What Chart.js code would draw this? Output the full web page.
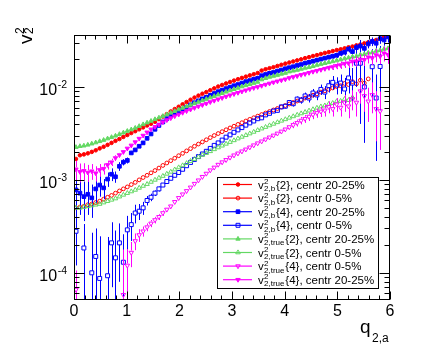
<!DOCTYPE html>
<html><head><meta charset="utf-8">
<script src="https://cdn.jsdelivr.net/npm/chart.js@4.4.1/dist/chart.umd.min.js"></script>
<style>html,body{margin:0;padding:0;background:#fff;}#wrap{width:436px;height:354px;position:relative;}</style>
</head><body><div id="wrap"><canvas id="c" width="436" height="354"></canvas></div>
<script>
// ---- bin centres of q_{2,a}
const qBins = [0.0375,0.1125,0.1875,0.2625,0.3375,0.4125,0.4875,0.5625,0.6375,0.7125,
0.7875,0.8625,0.9375,1.0125,1.0875,1.1625,1.2375,1.3125,1.3875,1.4625,
1.5375,1.6125,1.6875,1.7625,1.8375,1.9125,1.9875,2.0625,2.1375,2.2125,
2.2875,2.3625,2.4375,2.5125,2.5875,2.6625,2.7375,2.8125,2.8875,2.9625,
3.0375,3.1125,3.1875,3.2625,3.3375,3.4125,3.4875,3.5625,3.6375,3.7125,
3.7875,3.8625,3.9375,4.0125,4.0875,4.1625,4.2375,4.3125,4.3875,4.4625,
4.5375,4.6125,4.6875,4.7625,4.8375,4.9125,4.9875,5.0625,5.1375,5.2125,
5.2875,5.3625,5.4375,5.5125,5.5875,5.6625,5.7375,5.8125,5.8875,5.9625];

// ---- tick labels
const xTickValues = [0,1,2,3,4,5,6];
const xTickLabels = ['0','1','2','3','4','5','6'];
const yTickValues = [1e-4,1e-3,1e-2];
const yTickBase = ['10','10','10'];
const yTickExp = ['-4','-3','-2'];

// ---- series: v2,b{2} centr 20-25%
const v2b2_c2025 = [1.68e-3,1.84e-3,1.88e-3,1.93e-3,2.00e-3,2.08e-3,2.18e-3,2.27e-3,2.38e-3,2.50e-3,
2.63e-3,2.75e-3,2.90e-3,3.04e-3,3.19e-3,3.34e-3,3.50e-3,3.67e-3,3.85e-3,4.02e-3,
4.22e-3,4.50e-3,4.80e-3,5.10e-3,5.45e-3,5.78e-3,6.12e-3,6.50e-3,6.88e-3,7.28e-3,
7.68e-3,8.06e-3,8.45e-3,8.80e-3,9.22e-3,9.65e-3,10.1e-3,10.5e-3,10.9e-3,11.3e-3,
11.7e-3,12.1e-3,12.5e-3,12.9e-3,13.3e-3,13.7e-3,14.1e-3,15.0e-3,15.5e-3,15.9e-3,
16.3e-3,16.8e-3,17.3e-3,17.8e-3,18.3e-3,18.8e-3,19.3e-3,19.8e-3,20.4e-3,20.9e-3,
21.5e-3,22.0e-3,22.6e-3,23.2e-3,23.7e-3,24.3e-3,24.9e-3,25.4e-3,26.0e-3,26.7e-3,
27.2e-3,28.0e-3,28.6e-3,29.4e-3,30.2e-3,31.2e-3,32.0e-3,33.2e-3,34.3e-3,35.5e-3];

// v2,b{2} centr 0-5%
const v2b2_c05 = [0.50e-3,0.51e-3,0.52e-3,0.54e-3,0.55e-3,0.57e-3,0.59e-3,0.62e-3,0.65e-3,0.68e-3,
0.72e-3,0.76e-3,0.80e-3,0.84e-3,0.89e-3,0.94e-3,1.00e-3,1.06e-3,1.12e-3,1.19e-3,
1.26e-3,1.34e-3,1.43e-3,1.52e-3,1.61e-3,1.71e-3,1.82e-3,1.93e-3,2.05e-3,2.17e-3,
2.30e-3,2.43e-3,2.56e-3,2.70e-3,2.85e-3,3.00e-3,3.15e-3,3.30e-3,3.46e-3,3.62e-3,
3.78e-3,3.95e-3,4.12e-3,4.30e-3,4.48e-3,4.66e-3,4.85e-3,5.04e-3,5.24e-3,5.44e-3,
5.65e-3,5.86e-3,6.08e-3,6.30e-3,6.55e-3,6.80e-3,7.05e-3,7.30e-3,7.58e-3,7.85e-3,
8.15e-3,8.45e-3,8.80e-3,9.10e-3,9.40e-3,9.75e-3,10.1e-3,10.3e-3,10.9e-3,10.6e-3,
11.4e-3,10.8e-3,11.8e-3,11.0e-3,12.2e-3,null,null,null,null,null];

// v2,b{4} centr 20-25%
const v2b4_c2025 = [0.78e-3,0.72e-3,0.66e-3,0.70e-3,0.64e-3,0.80e-3,0.88e-3,0.82e-3,1.02e-3,1.15e-3,
1.08e-3,1.40e-3,1.55e-3,1.62e-3,1.95e-3,2.10e-3,2.30e-3,2.50e-3,2.80e-3,3.12e-3,
3.50e-3,3.85e-3,4.20e-3,4.55e-3,4.85e-3,5.15e-3,5.39e-3,5.72e-3,6.05e-3,6.41e-3,
6.76e-3,7.09e-3,7.44e-3,7.74e-3,8.11e-3,8.49e-3,8.89e-3,9.24e-3,9.59e-3,9.94e-3,
10.3e-3,10.6e-3,11.0e-3,11.4e-3,11.7e-3,12.1e-3,12.4e-3,13.2e-3,13.6e-3,14.0e-3,
14.3e-3,14.8e-3,15.2e-3,15.7e-3,16.1e-3,16.5e-3,17.0e-3,17.4e-3,18.0e-3,18.4e-3,
18.9e-3,19.4e-3,19.9e-3,20.4e-3,20.9e-3,21.4e-3,21.9e-3,23.0e-3,23.6e-3,25.5e-3,
24.0e-3,26.5e-3,27.5e-3,26.0e-3,29.0e-3,30.8e-3,29.5e-3,33.0e-3,32.0e-3,34.5e-3];
const err_v2b4_c2025 = [0.35e-3,0.30e-3,0.30e-3,0.28e-3,0.25e-3,0.25e-3,0.22e-3,0.20e-3,0.18e-3,0.18e-3,
0.15e-3,0.15e-3,0.12e-3,0.12e-3,0.10e-3,0.10e-3,0.09e-3,0.09e-3,0.08e-3,0.08e-3,
0,0,0,0,0,0,0,0,0,0, 0,0,0,0,0,0,0,0,0,0, 0,0,0,0,0,0,0,0,0,0, 0,0,0,0,0,0,0,0,0,0,
0.6e-3,0.7e-3,0.8e-3,0.9e-3,1.0e-3,1.2e-3,1.4e-3,1.6e-3,1.8e-3,2.0e-3,
2.2e-3,2.4e-3,2.6e-3,2.8e-3,3.0e-3,3.3e-3,3.6e-3,3.9e-3,4.2e-3,4.5e-3];

// v2,b{4} centr 0-5%
const v2b4_c05 = [0.28e-3,null,0.185e-3,null,0.10e-3,0.15e-3,0.087e-3,null,0.093e-3,0.21e-3,
0.145e-3,0.21e-3,0.13e-3,0.29e-3,0.33e-3,0.44e-3,0.46e-3,0.50e-3,0.60e-3,0.65e-3,
0.72e-3,0.80e-3,0.88e-3,0.96e-3,1.04e-3,1.12e-3,1.20e-3,1.30e-3,1.42e-3,1.54e-3,
1.66e-3,1.78e-3,1.90e-3,2.03e-3,2.18e-3,2.35e-3,2.50e-3,2.68e-3,2.88e-3,3.05e-3,
3.25e-3,3.45e-3,3.65e-3,3.88e-3,4.10e-3,4.30e-3,4.55e-3,4.65e-3,5.00e-3,5.20e-3,
5.50e-3,5.60e-3,6.10e-3,6.20e-3,6.80e-3,6.60e-3,7.40e-3,7.20e-3,8.00e-3,7.60e-3,
8.60e-3,8.20e-3,9.40e-3,8.80e-3,10.3e-3,11.2e-3,10.5e-3,11.0e-3,9.5e-3,12.5e-3,
11.0e-3,18.0e-3,18.0e-3,10.0e-3,null,16.5e-3,7.6e-3,16.6e-3,null,null];
const err_v2b4_c05 = [0.16e-3,0,0.15e-3,0,0.17e-3,0.15e-3,0.16e-3,0,0.15e-3,0.14e-3,
0.14e-3,0.13e-3,0.13e-3,0.12e-3,0.11e-3,0.10e-3,0.09e-3,0.08e-3,0.07e-3,0.06e-3,
0.05e-3,0.05e-3,0.04e-3,0,0,0,0,0,0,0, 0,0,0,0,0,0,0,0,0,0, 0,0,0,0,0,0,0,0,0,0,
0.25e-3,0.3e-3,0.3e-3,0.35e-3,0.4e-3,0.45e-3,0.5e-3,0.6e-3,0.7e-3,0.8e-3,
0.9e-3,1.0e-3,1.2e-3,1.4e-3,1.6e-3,1.9e-3,2.2e-3,2.6e-3,3.0e-3,4.0e-3,
5.0e-3,8.0e-3,14.0e-3,7.5e-3,0,9.0e-3,6.0e-3,11.0e-3,0,0];

// v2,true{2} centr 20-25%
const v2true2_c2025 = [2.25e-3,2.30e-3,2.33e-3,2.38e-3,2.45e-3,2.52e-3,2.60e-3,2.68e-3,2.78e-3,2.88e-3,
2.98e-3,3.10e-3,3.22e-3,3.35e-3,3.48e-3,3.62e-3,3.78e-3,3.95e-3,4.12e-3,4.30e-3,
4.48e-3,4.66e-3,4.85e-3,5.05e-3,5.26e-3,5.48e-3,5.70e-3,5.93e-3,6.16e-3,6.40e-3,
6.65e-3,6.90e-3,7.15e-3,7.40e-3,7.68e-3,7.95e-3,8.25e-3,8.55e-3,8.85e-3,9.15e-3,
9.45e-3,9.75e-3,10.1e-3,10.4e-3,10.7e-3,11.0e-3,11.3e-3,12.0e-3,12.4e-3,12.8e-3,
13.1e-3,13.4e-3,13.8e-3,14.1e-3,14.6e-3,14.9e-3,15.2e-3,15.6e-3,16.0e-3,16.3e-3,
16.7e-3,17.2e-3,17.6e-3,18.0e-3,18.4e-3,18.8e-3,19.2e-3,19.7e-3,20.2e-3,20.6e-3,
21.1e-3,21.4e-3,22.2e-3,22.5e-3,23.3e-3,23.5e-3,24.4e-3,24.8e-3,25.6e-3,26.0e-3];

// v2,true{2} centr 0-5%
const v2true2_c05 = [0.50e-3,0.50e-3,0.51e-3,0.52e-3,0.53e-3,0.54e-3,0.55e-3,0.57e-3,0.59e-3,0.61e-3,
0.63e-3,0.66e-3,0.69e-3,0.72e-3,0.75e-3,0.78e-3,0.82e-3,0.86e-3,0.90e-3,0.95e-3,
1.00e-3,1.05e-3,1.10e-3,1.16e-3,1.22e-3,1.29e-3,1.36e-3,1.43e-3,1.51e-3,1.59e-3,
1.67e-3,1.76e-3,1.85e-3,1.94e-3,2.03e-3,2.13e-3,2.23e-3,2.33e-3,2.44e-3,2.55e-3,
2.66e-3,2.78e-3,2.90e-3,3.02e-3,3.15e-3,3.28e-3,3.42e-3,3.56e-3,3.70e-3,3.85e-3,
4.00e-3,4.16e-3,4.32e-3,4.48e-3,4.65e-3,4.82e-3,5.00e-3,5.18e-3,5.36e-3,5.55e-3,
5.74e-3,5.95e-3,6.15e-3,6.30e-3,6.55e-3,6.70e-3,7.00e-3,7.05e-3,7.40e-3,7.20e-3,
7.70e-3,null,null,null,null,null,null,null,null,null];

// v2,true{4} centr 0-5%
const v2true4_c05 = [0.066e-3,null,null,null,null,null,null,null,null,null,
null,null,0.058e-3,0.12e-3,0.165e-3,0.22e-3,0.255e-3,0.28e-3,0.31e-3,0.34e-3,
0.37e-3,0.40e-3,0.44e-3,0.48e-3,0.52e-3,0.58e-3,0.64e-3,0.70e-3,0.76e-3,0.83e-3,
0.91e-3,0.99e-3,1.08e-3,1.17e-3,1.27e-3,1.36e-3,1.46e-3,1.55e-3,1.64e-3,1.74e-3,
1.84e-3,1.93e-3,2.03e-3,2.13e-3,2.24e-3,2.36e-3,2.48e-3,2.60e-3,2.73e-3,2.87e-3,
3.01e-3,3.16e-3,3.32e-3,3.50e-3,3.70e-3,3.90e-3,4.10e-3,4.35e-3,4.55e-3,4.80e-3,
5.05e-3,5.25e-3,5.45e-3,5.60e-3,6.10e-3,5.80e-3,6.50e-3,6.00e-3,6.80e-3,6.20e-3,
7.40e-3,6.80e-3,9.00e-3,8.00e-3,7.00e-3,8.20e-3,5.80e-3,5.50e-3,null,null];
const err_v2true4_c05 = [0.04e-3,0,0,0,0,0,0,0,0,0,
0,0,0.12e-3,0.06e-3,0.05e-3,0.045e-3,0.04e-3,0.035e-3,0.03e-3,0.03e-3,
0.03e-3,0.03e-3,0.03e-3,0,0,0,0,0,0,0, 0,0,0,0,0,0,0,0,0,0, 0,0,0,0,0,0,0,0,0,0,
0,0,0,0,0,0.3e-3,0.35e-3,0.4e-3,0.45e-3,0.5e-3,
0.55e-3,0.6e-3,0.7e-3,0.8e-3,0.9e-3,1.0e-3,1.1e-3,1.2e-3,1.4e-3,1.6e-3,
1.8e-3,2.0e-3,2.4e-3,2.6e-3,2.8e-3,3.0e-3,3.2e-3,3.4e-3,0,0];

// v2,true{4} centr 20-25%
const v2true4_c2025 = [1.30e-3,1.22e-3,1.25e-3,1.20e-3,1.24e-3,1.18e-3,1.28e-3,1.32e-3,1.45e-3,1.55e-3,
1.72e-3,1.85e-3,2.00e-3,2.18e-3,2.35e-3,2.55e-3,2.78e-3,3.00e-3,3.25e-3,3.50e-3,
3.72e-3,3.95e-3,4.18e-3,4.40e-3,4.62e-3,4.85e-3,5.05e-3,5.28e-3,5.50e-3,5.72e-3,
5.95e-3,6.18e-3,6.40e-3,6.63e-3,6.88e-3,7.12e-3,7.37e-3,7.62e-3,7.88e-3,8.14e-3,
8.40e-3,8.66e-3,8.93e-3,9.20e-3,9.48e-3,9.76e-3,10.0e-3,10.3e-3,10.6e-3,10.9e-3,
11.2e-3,11.5e-3,11.8e-3,12.1e-3,12.5e-3,12.8e-3,13.1e-3,13.5e-3,13.8e-3,14.2e-3,
14.6e-3,14.9e-3,15.3e-3,15.7e-3,16.1e-3,16.4e-3,16.9e-3,17.2e-3,17.8e-3,18.0e-3,
18.8e-3,18.9e-3,19.8e-3,19.6e-3,20.9e-3,20.5e-3,22.0e-3,21.4e-3,23.0e-3,22.2e-3];
const err_v2true4_c2025 = [0.30e-3,0.28e-3,0.26e-3,0.25e-3,0.24e-3,0.22e-3,0.20e-3,0.18e-3,0.16e-3,0.14e-3,
0.12e-3,0.10e-3,0,0,0,0,0,0,0,0,
0,0,0,0,0,0,0,0,0,0, 0,0,0,0,0,0,0,0,0,0, 0,0,0,0,0,0,0,0,0,0, 0,0,0,0,0,0,0,0,0,0,
0.6e-3,0.7e-3,0.8e-3,0.9e-3,1.0e-3,1.2e-3,1.4e-3,1.6e-3,1.8e-3,2.0e-3,
2.2e-3,2.4e-3,2.6e-3,2.8e-3,3.0e-3,3.3e-3,3.6e-3,3.9e-3,4.2e-3,4.5e-3];

// ---- legend texts
const legendSub = ['2,b','2,b','2,b','2,b','2,true','2,true','2,true','2,true'];
const legendRest = ['{2}, centr 20-25%','{2}, centr 0-5%','{4}, centr 20-25%','{4}, centr 0-5%',
                    '{2}, centr 20-25%','{2}, centr 0-5%','{4}, centr 0-5%','{4}, centr 20-25%'];

const GREEN = '#63d863';
const specs = [
  {values:v2b2_c2025, err:null, color:'#ff0000', style:'circle', rot:0, r:1.8, filled:true},
  {values:v2b2_c05, err:null, color:'#ff0000', style:'circle', rot:0, r:1.9, filled:false},
  {values:v2b4_c2025, err:err_v2b4_c2025, color:'#0000ff', style:'rect', rot:0, r:2.6, filled:true},
  {values:v2b4_c05, err:err_v2b4_c05, color:'#0000ff', style:'rect', rot:0, r:2.8, filled:false},
  {values:v2true2_c2025, err:null, color:GREEN, style:'triangle', rot:0, r:2.5, filled:true},
  {values:v2true2_c05, err:null, color:GREEN, style:'triangle', rot:0, r:2.6, filled:false},
  {values:v2true4_c05, err:err_v2true4_c05, color:'#ff00ff', style:'triangle', rot:180, r:2.6, filled:false},
  {values:v2true4_c2025, err:err_v2true4_c2025, color:'#ff00ff', style:'triangle', rot:180, r:2.5, filled:true}
];
specs.forEach((s,i)=>{ s.label = 'v2^2_{' + legendSub[i] + '}' + legendRest[i]; });

const FONT = '"Liberation Sans", Arial, Helvetica, sans-serif';

function drawMarker(ctx, s, x, y){
  const r = s.r;
  ctx.save();
  ctx.beginPath();
  if (s.style === 'circle') ctx.arc(x, y, r, 0, Math.PI*2);
  else if (s.style === 'rect') { const h = r*Math.SQRT1_2; ctx.rect(x-h, y-h, 2*h, 2*h); }
  else {
    const d = s.rot === 180 ? -1 : 1;
    ctx.moveTo(x, y - d*r);
    ctx.lineTo(x + r*0.866, y + d*r*0.5);
    ctx.lineTo(x - r*0.866, y + d*r*0.5);
    ctx.closePath();
  }
  if (s.filled) { ctx.fillStyle = s.color; ctx.fill(); }
  ctx.strokeStyle = s.color; ctx.lineWidth = 1; ctx.stroke();
  ctx.restore();
}

const errorBarPlugin = {
  id: 'errbars',
  beforeDatasetDraw(chart, args){
    const s = specs[args.index];
    if (!s.err) return;
    const xs = chart.scales.x, ys = chart.scales.y, a = chart.chartArea, ctx = chart.ctx;
    ctx.save();
    ctx.beginPath(); ctx.rect(a.left, a.top, a.right-a.left, a.bottom-a.top); ctx.clip();
    ctx.strokeStyle = s.color; ctx.lineWidth = 1;
    ctx.beginPath();
    const gap = s.style === 'rect' ? s.r*0.71 : s.r*0.8;
    s.values.forEach((v,k)=>{
      if (v == null) return;
      const e = s.err[k];
      if (!e) return;
      const px = Math.round(xs.getPixelForValue(qBins[k])) + 0.5;
      const py = ys.getPixelForValue(v);
      const yTop = ys.getPixelForValue(v+e);
      const yBot = (v-e) > 0 ? ys.getPixelForValue(v-e) : a.bottom + 5;
      if (yTop < py - gap) { ctx.moveTo(px, py - gap); ctx.lineTo(px, yTop); }
      if (yBot > py + gap) { ctx.moveTo(px, py + gap); ctx.lineTo(px, yBot); }
    });
    ctx.stroke();
    ctx.restore();
  }
};

const framePlugin = {
  id: 'rootFrame',
  afterDatasetsDraw(chart){
    const ctx = chart.ctx, a = chart.chartArea, xs = chart.scales.x, ys = chart.scales.y;
    ctx.save();
    ctx.strokeStyle = '#000'; ctx.lineWidth = 1;
    const L = Math.round(a.left)+0.5, R = Math.round(a.right)-0.5, T = Math.round(a.top)+0.5, B = Math.round(a.bottom)-0.5;
    ctx.strokeRect(L, T, R-L, B-T);
    ctx.beginPath();
    for (let i = 0; i <= 30; i++) {
      const v = i*0.2;
      const px = Math.round(xs.getPixelForValue(v)) + 0.5;
      const len = (i % 5 === 0) ? 8 : 4;
      ctx.moveTo(px, B); ctx.lineTo(px, B - len);
      ctx.moveTo(px, T); ctx.lineTo(px, T + len);
    }
    for (let d = -5; d <= -1; d++) {
      for (let m = 1; m <= 9; m++) {
        const v = m*Math.pow(10, d);
        if (v < ys.min || v > ys.max) continue;
        const py = Math.round(ys.getPixelForValue(v)) + 0.5;
        const len = m === 1 ? 10 : 5;
        ctx.moveTo(L, py); ctx.lineTo(L + len, py);
        ctx.moveTo(R, py); ctx.lineTo(R - len, py);
      }
    }
    ctx.stroke();
    ctx.fillStyle = '#000';
    ctx.font = '16px ' + FONT; ctx.textAlign = 'center'; ctx.textBaseline = 'alphabetic';
    xTickValues.forEach((v,i)=>{ ctx.fillText(xTickLabels[i], xs.getPixelForValue(v), 316); });
    yTickValues.forEach((v,i)=>{
      const py = ys.getPixelForValue(v);
      ctx.textAlign = 'right';
      ctx.font = '10.5px ' + FONT;
      const ew = ctx.measureText(yTickExp[i]).width;
      ctx.fillText(yTickExp[i], 67, py + 1);
      ctx.font = '16px ' + FONT;
      ctx.fillText(yTickBase[i], 67 - ew - 0.5, py + 8);
    });
    ctx.textAlign = 'left';
    ctx.font = '19px ' + FONT;
    ctx.fillText('q', 360, 333);
    ctx.font = '12px ' + FONT;
    ctx.fillText('2,a', 372, 342);
    ctx.save();
    ctx.translate(32, 44);
    ctx.rotate(-Math.PI/2);
    ctx.font = '19px ' + FONT;
    ctx.fillText('v', 0, 0);
    const vw = ctx.measureText('v').width;
    ctx.font = '12px ' + FONT;
    ctx.fillText('2', vw + 0.5, -8);
    ctx.fillText('2', vw + 0.5, 1);
    ctx.restore();
    ctx.restore();
  },
  afterDraw(chart){
    const ctx = chart.ctx;
    const bx = 217, by = 177, bw = 161, bh = 111;
    ctx.save();
    ctx.fillStyle = '#fff'; ctx.fillRect(bx, by, bw, bh);
    ctx.strokeStyle = '#000'; ctx.lineWidth = 1; ctx.strokeRect(bx+0.5, by+0.5, bw, bh);
    specs.forEach((s,i)=>{
      const cy = by + 7.5 + i*13.6;
      ctx.strokeStyle = s.color; ctx.lineWidth = 1.2;
      ctx.beginPath(); ctx.moveTo(223, cy); ctx.lineTo(252, cy); ctx.stroke();
      drawMarker(ctx, s, 238, cy);
      ctx.fillStyle = '#000'; ctx.textAlign = 'left'; ctx.textBaseline = 'alphabetic';
      let x = 258; const base = cy + 4;
      ctx.font = '11.5px ' + FONT;
      ctx.fillText('v', x, base);
      x += ctx.measureText('v').width + 0.3;
      ctx.font = '8px ' + FONT;
      ctx.fillText('2', x, base - 4.5);
      ctx.fillText(legendSub[i], x, base + 2.5);
      x += Math.max(ctx.measureText('2').width, ctx.measureText(legendSub[i]).width) + 0.8;
      ctx.font = '11.5px ' + FONT;
      ctx.fillText(legendRest[i], x, base);
    });
    ctx.restore();
  }
};

const chart = new Chart(document.getElementById('c'), {
  type: 'scatter',
  data: {
    datasets: specs.map((s,i)=>({
      label: s.label,
      data: qBins.map((q,k)=> s.values[k] == null ? null : {x:q, y:s.values[k]}).filter(p=>p),
      showLine: false,
      pointStyle: s.style,
      rotation: s.rot,
      pointRadius: s.r,
      pointHoverRadius: s.r,
      pointBackgroundColor: s.filled ? s.color : 'rgba(0,0,0,0)',
      pointBorderColor: s.color,
      pointBorderWidth: 1,
      order: specs.length - i
    }))
  },
  options: {
    responsive: false,
    animation: false,
    events: [],
    layout: { padding: { left: 74, right: 46, top: 35, bottom: 54 } },
    plugins: { legend: { display: false }, tooltip: { enabled: false } },
    scales: {
      x: { type: 'linear', min: 0, max: 6, display: false },
      y: { type: 'logarithmic', min: 5.1e-5, max: 0.0362, display: false }
    }
  },
  plugins: [errorBarPlugin, framePlugin]
});
</script></body></html>
